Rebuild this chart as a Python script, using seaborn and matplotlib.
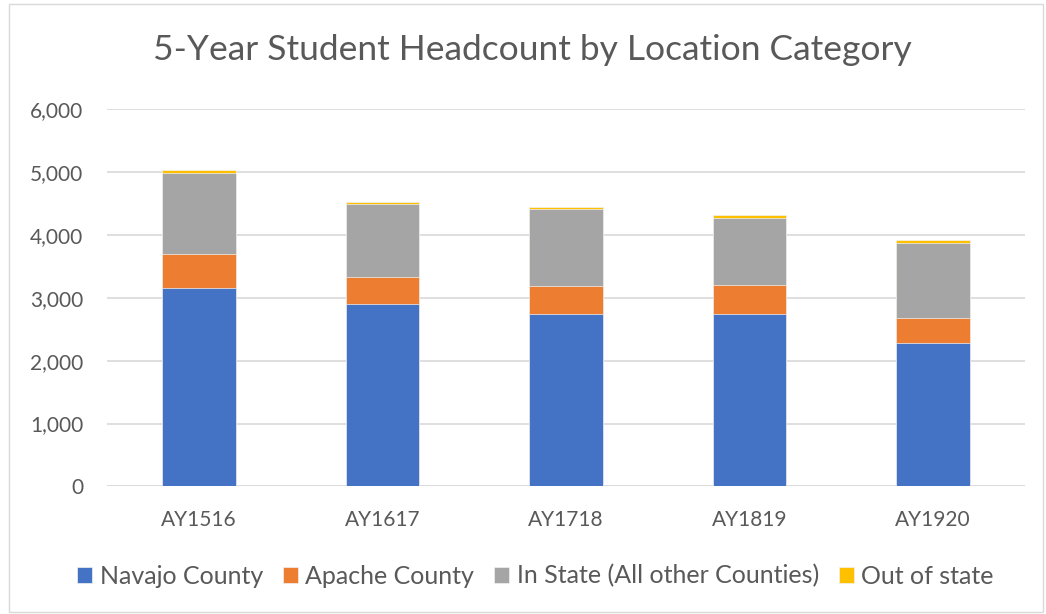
import pandas as pd
import matplotlib.pyplot as plt
import seaborn as sns
from matplotlib.patches import Rectangle
from matplotlib.ticker import FuncFormatter

# values
years = ['AY1516', 'AY1617', 'AY1718', 'AY1819', 'AY1920']
navajo = [3160, 2897, 2747, 2747, 2281]
apache = [540, 438, 441, 461, 393]
in_state = [1278, 1156, 1224, 1065, 1202]
out_state = [53, 28, 27, 43, 48]

series = ['Navajo County', 'Apache County', 'In State (All other Counties)', 'Out of state']
colors = ['#4472C4', '#ED7D31', '#A5A5A5', '#FFC000']

df = pd.DataFrame({'Year': years, series[0]: navajo, series[1]: apache,
                   series[2]: in_state, series[3]: out_state})
# cumulative totals, so the bars can be layered top-down
cum = df[series].cumsum(axis=1)
cum['Year'] = df['Year']

sns.set_style('white')
plt.rcParams['font.family'] = ['Lato', 'DejaVu Sans']

fig = plt.figure(figsize=(10.46, 6.14), dpi=100)
ax = fig.add_axes([0.1023, 0.2077, 0.8776, 0.6148])

for name, col in reversed(list(zip(series, colors))):
    sns.barplot(data=cum, x='Year', y=name, color=col, width=0.4,
                saturation=1, ax=ax, label=name, zorder=3,
                edgecolor='#f2f2f2', linewidth=0.5)

ax.set_ylim(0, 6000)
ax.set_yticks(range(0, 6001, 1000))
ax.yaxis.set_major_formatter(FuncFormatter(lambda v, p: f'{int(v):,}'))
ax.grid(axis='y', color='#d9d9d9', linewidth=1.2, zorder=0)
ax.set_axisbelow(True)
for s in ['top', 'right', 'left', 'bottom']:
    ax.spines[s].set_visible(False)
ax.axhline(0, color='#d9d9d9', linewidth=1.2, zorder=1)
ax.tick_params(axis='both', length=0, labelsize=15, colors='#595959')
ax.tick_params(axis='y', pad=17)
ax.tick_params(axis='x', pad=17)
ax.set_xlabel('')
ax.set_ylabel('')

fig.suptitle('5-Year Student Headcount by Location Category', x=0.509, y=0.945,
             fontsize=25.5, color='#595959')

handles, labels = ax.get_legend_handles_labels()
order = [labels.index(s) for s in series]
ax.legend([handles[i] for i in order], [labels[i] for i in order],
          loc='center', bbox_to_anchor=(0.512, 0.062), bbox_transform=fig.transFigure,
          ncol=4, frameon=False, fontsize=18, labelcolor='#595959',
          handlelength=0.6, handleheight=0.6, handletextpad=0.3, columnspacing=0.8)

fig.patches.append(Rectangle((0.009, 0.003), 0.988, 0.99, transform=fig.transFigure,
                             fill=False, edgecolor='#d9d9d9', linewidth=1))

fig.savefig('out.png', dpi=100)
